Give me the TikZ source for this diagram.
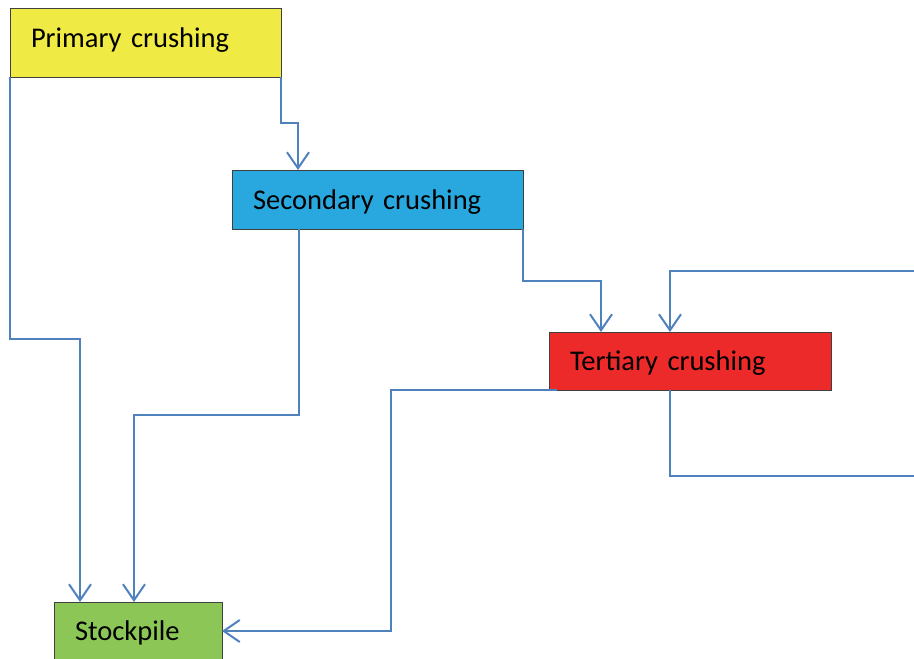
\documentclass[tikz,border=0pt]{standalone}
\usepackage{fontspec}
\setmainfont{Carlito}
\usetikzlibrary{arrows.meta,calc}
\definecolor{pyel}{HTML}{F0EA44}
\definecolor{sblue}{HTML}{29A8DF}
\definecolor{tred}{HTML}{EC2A2A}
\definecolor{sgreen}{HTML}{8CC656}
\definecolor{lineblue}{HTML}{4F81BD}
\definecolor{edge}{HTML}{404040}
\begin{document}
\begin{tikzpicture}[x=1pt,y=1pt,
  stage/.style={draw=edge,line width=1pt,rectangle,inner xsep=21pt,inner ysep=0pt,outer sep=0pt,
    align=left,font=\fontsize{28.5}{32}\selectfont,anchor=center,text height=20pt,text depth=1pt},
  flow/.style={draw=lineblue,line width=2pt},
  arr/.style={flow,-{Straight Barb[length=16pt,width=22pt,line width=2pt]}}]
\useasboundingbox (0,0) rectangle (914,-659);
\clip (0,0) rectangle (914,-659);
\node[stage,fill=pyel,text width=229pt,minimum height=69pt,text depth=10pt] (prim) at (145.5,-42.5) {Primary crushing};
\node[stage,fill=sblue,text width=249pt,minimum height=59pt] (sec) at (377.5,-199.5) {Secondary crushing};
\node[stage,fill=tred,text width=240pt,minimum height=58pt] (ter) at (690,-361) {Tertiary crushing};
\node[stage,fill=sgreen,text width=126pt,minimum height=58pt] (stock) at (138,-631) {Stockpile};
\coordinate (inR) at (914,-271);
\coordinate (outR) at (914,-476);
% primary -> secondary
\draw[arr] (prim.south east) -- ++(0,-46) -| ($(sec.north west)+(66,0)$);
% primary -> stockpile
\draw[arr] (prim.south west) -- ++(0,-262) -| ($(stock.north west)+(26,0)$);
% secondary -> stockpile
\draw[arr] ($(sec.south west)+(67,0)$) -- ++(0,-186) -| ($(stock.north west)+(80,0)$);
% secondary -> tertiary
\draw[arr] (sec.south east) -- ++(0,-52) -| ($(ter.north west)+(52,0)$);
% recycle in
\draw[arr] (inR) -| ($(ter.north west)+(121,0)$);
% tertiary out to right
\draw[flow,line width=2.8pt] ($(ter.south west)+(121,0)$) |- (outR);
% tertiary -> stockpile
\draw[arr] ($(ter.south west)+(8,0)$) -- (391,-390) |- (stock.east);
\end{tikzpicture}
\end{document}
